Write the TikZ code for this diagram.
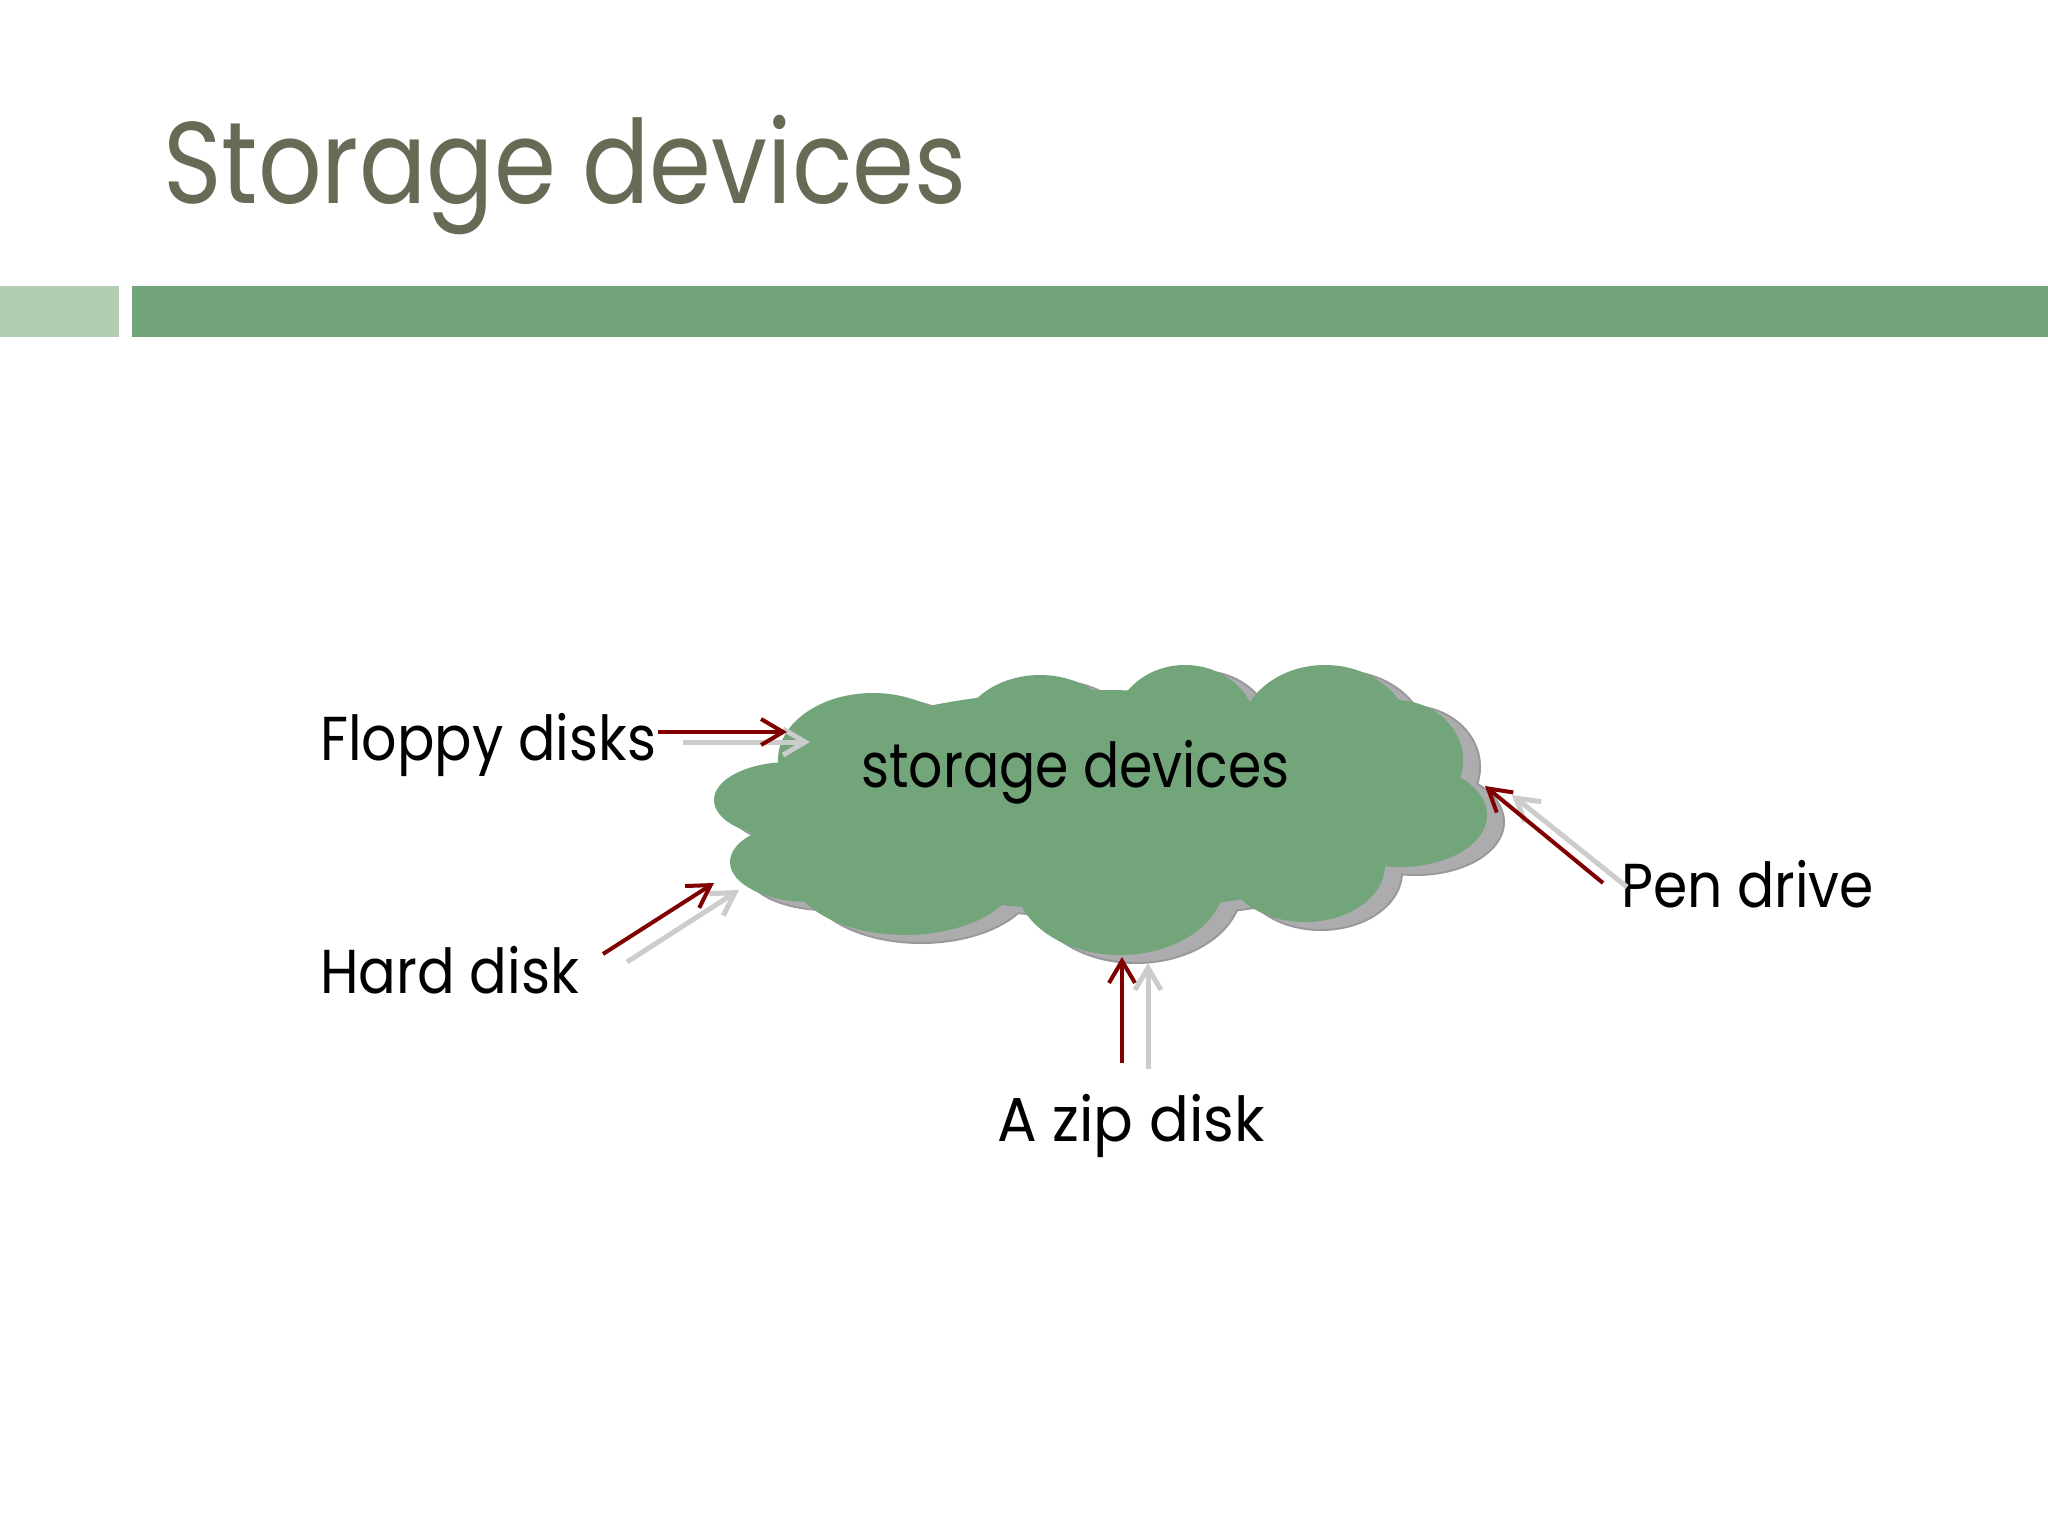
\documentclass[tikz,border=0pt]{standalone}
\usepackage{fontspec}
\setmainfont{Poppins}
\usetikzlibrary{arrows.meta}
\definecolor{titlecol}{RGB}{103,107,85}
\definecolor{barlight}{RGB}{178,205,178}
\definecolor{bardark}{RGB}{114,164,121}
\definecolor{cloudgreen}{RGB}{115,165,122}
\definecolor{cloudshade}{RGB}{172,172,174}
\definecolor{cloudedge}{RGB}{152,152,154}
\definecolor{arrowred}{RGB}{128,0,0}
\definecolor{arrowgray}{RGB}{204,204,204}
\begin{document}
\begin{tikzpicture}[x=1pt,y=1pt,
  lbl/.style={anchor=base west, inner sep=0pt, font=\fontsize{62}{70}\selectfont},
  redarr/.style={draw=arrowred, line width=4pt, -{Straight Barb[length=22pt,width=26pt]}},
  grayarr/.style={draw=arrowgray, line width=5pt, -{Straight Barb[length=22pt,width=26pt]}}]
\useasboundingbox[fill=white] (0,0) rectangle (2048,-1536);
% title and bars
\node[anchor=base west, inner sep=0pt, text=titlecol, font=\fontsize{116}{120}\selectfont] (title) at (163,-203) {\scalebox{0.86}[1]{Storage devices}};
\fill[barlight] (0,-286) rectangle (119,-337);
\fill[bardark] (132,-286) rectangle (2048,-337);
% cloud shadow
\begin{scope}[shift={(16,-7)}]
\foreach \cx/\cy/\rx/\ry in {873/760/95/67,1040/740/82/65,1185/730/72/65,1325/735/85/70,1395/760/68/60,1400/815/87/52,1305/865/80/57,1120/880/105/75,905/870/115/65,810/862/80/40,790/800/76/38,1100/800/330/110}
  \draw[cloudedge, line width=4pt] (\cx,-\cy) ellipse [x radius=\rx pt, y radius=\ry pt];
\foreach \cx/\cy/\rx/\ry in {873/760/95/67,1040/740/82/65,1185/730/72/65,1325/735/85/70,1395/760/68/60,1400/815/87/52,1305/865/80/57,1120/880/105/75,905/870/115/65,810/862/80/40,790/800/76/38,1100/800/330/110}
  \fill[cloudshade] (\cx,-\cy) ellipse [x radius=\rx pt, y radius=\ry pt];
\end{scope}
% cloud
\foreach \cx/\cy/\rx/\ry in {873/760/95/67,1040/740/82/65,1185/730/72/65,1325/735/85/70,1395/760/68/60,1400/815/87/52,1305/865/80/57,1120/880/105/75,905/870/115/65,810/862/80/40,790/800/76/38,1100/800/330/110}
  \fill[cloudgreen] (\cx,-\cy) ellipse [x radius=\rx pt, y radius=\ry pt];
\node[lbl] (cloudtext) at (861,-787) {\scalebox{0.865}[1]{storage devices}};
% labels
\node[lbl] (floppy) at (320,-760) {\scalebox{0.895}[1]{Floppy disks}};
\node[lbl] (hard) at (320,-993) {\scalebox{0.9}[1]{Hard disk}};
\node[lbl] (pen) at (1621,-907) {\scalebox{0.89}[1]{Pen drive}};
\node[lbl] (zip) at (997,-1141) {\scalebox{0.95}[1]{A zip disk}};
% arrow end points
\coordinate (fgs) at (683,-742); \coordinate (fge) at (810,-742);
\coordinate (frs) at (658,-732); \coordinate (fre) at (787,-732);
\coordinate (hgs) at (627,-962); \coordinate (hge) at (739,-890);
\coordinate (hrs) at (603,-954); \coordinate (hre) at (714,-883);
\coordinate (pgs) at (1627,-887); \coordinate (pge) at (1512,-795);
\coordinate (prs) at (1603,-883); \coordinate (pre) at (1485,-786);
\coordinate (zgs) at (1148,-1069); \coordinate (zge) at (1148,-963);
\coordinate (zrs) at (1122,-1063); \coordinate (zre) at (1122,-957);
\draw[grayarr] (fgs) -- (fge);
\draw[redarr] (frs) -- (fre);
\draw[grayarr] (hgs) -- (hge);
\draw[redarr] (hrs) -- (hre);
\draw[grayarr] (pgs) -- (pge);
\draw[redarr] (prs) -- (pre);
\draw[grayarr] (zgs) -- (zge);
\draw[redarr] (zrs) -- (zre);
\end{tikzpicture}
\end{document}
